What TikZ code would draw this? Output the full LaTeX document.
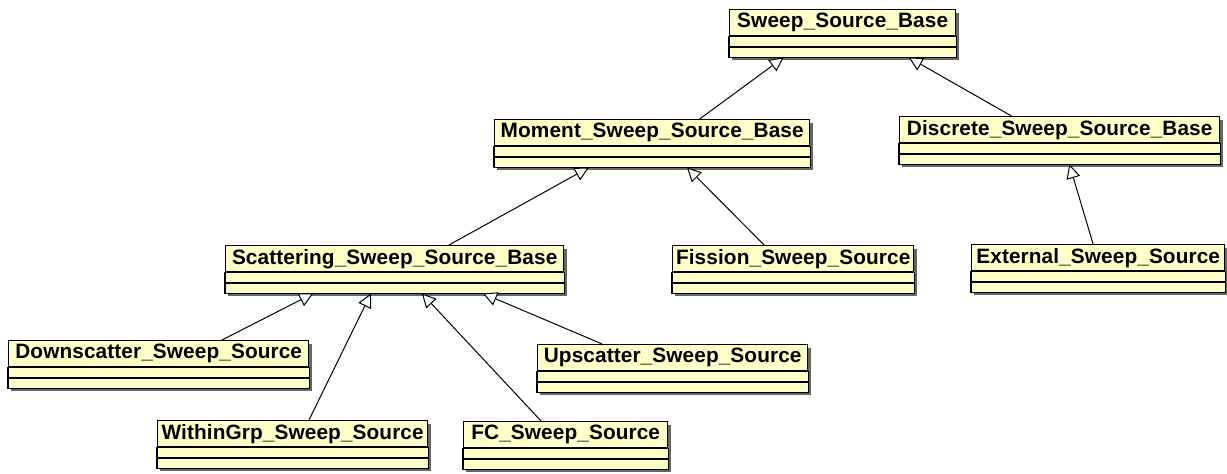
\documentclass[tikz,border=0pt]{standalone}
\usepackage{fontspec}
\newfontfamily\umlfont[LetterSpace=0.5]{Liberation Sans}
\usetikzlibrary{arrows.meta, calc, shadows}

\definecolor{umlyellow}{HTML}{FFFFC8}
\tikzset{
  umlshadow/.style={drop shadow={shadow xshift=1.5pt, shadow yshift=-1.5pt, fill=black!60, opacity=1}},
  umlclass/.style={draw=black, line width=0.7pt, fill=umlyellow, umlshadow, anchor=north west,
    inner sep=0pt, minimum height=13pt, font=\umlfont\bfseries\fontsize{10.4}{12}\selectfont},
  umlparts/.style={draw=black, line width=0.7pt, fill=umlyellow, umlshadow},
  inherit/.style={draw=black, line width=0.5pt, -{Triangle[open, length=7pt, width=7pt, fill=white]}}
}

% the two empty compartments under a class title
\newcommand{\umlcompartments}[1]{%
  \draw[umlparts] (#1.south west) rectangle ($(#1.south east)+(0,21)$);
  \draw[line width=0.7pt] ($(#1.south west)+(0,10.5)$) -- ($(#1.south east)+(0,10.5)$);
  \coordinate (#1-bw) at ($(#1.south west)+(0,21)$);
  \coordinate (#1-be) at ($(#1.south east)+(0,21)$);}

\newcommand{\inheritarrow}[4]{%
  \draw[inherit] ($(#1.north west)!#2!(#1.north east)$) -- ($(#3-bw)!#4!(#3-be)$);}

\begin{document}
\begin{tikzpicture}[x=0.5pt, y=-0.5pt]
\useasboundingbox (0,0) rectangle (1227,473);

\node[umlclass, minimum width=113pt] (ssb) at (729,9) {Sweep\_Source\_Base};
\umlcompartments{ssb}
\node[umlclass, minimum width=157.5pt] (moment) at (494,119) {Moment\_Sweep\_Source\_Base};
\umlcompartments{moment}
\node[umlclass, minimum width=160pt] (discrete) at (899,116) {Discrete\_Sweep\_Source\_Base};
\umlcompartments{discrete}
\node[umlclass, minimum width=169pt] (scatter) at (225,245) {Scattering\_Sweep\_Source\_Base};
\umlcompartments{scatter}
\node[umlclass, minimum width=120.5pt] (fission) at (672,245) {Fission\_Sweep\_Source};
\umlcompartments{fission}
\node[umlclass, minimum width=126.5pt] (external) at (971,244) {External\_Sweep\_Source};
\umlcompartments{external}
\node[umlclass, minimum width=150pt] (down) at (8,340) {Downscatter\_Sweep\_Source};
\umlcompartments{down}
\node[umlclass, minimum width=135pt] (up) at (537,344) {Upscatter\_Sweep\_Source};
\umlcompartments{up}
\node[umlclass, minimum width=135pt] (within) at (157,420) {WithinGrp\_Sweep\_Source};
\umlcompartments{within}
\node[umlclass, minimum width=102pt] (fc) at (463,421) {FC\_Sweep\_Source};
\umlcompartments{fc}

\inheritarrow{moment}{0.65}{ssb}{0.24}
\inheritarrow{discrete}{0.35}{ssb}{0.79}
\inheritarrow{scatter}{0.66}{moment}{0.30}
\inheritarrow{fission}{0.38}{moment}{0.61}
\inheritarrow{external}{0.48}{discrete}{0.53}
\inheritarrow{down}{0.71}{scatter}{0.26}
\inheritarrow{within}{0.56}{scatter}{0.43}
\inheritarrow{fc}{0.38}{scatter}{0.58}
\inheritarrow{up}{0.24}{scatter}{0.76}

\end{tikzpicture}
\end{document}
